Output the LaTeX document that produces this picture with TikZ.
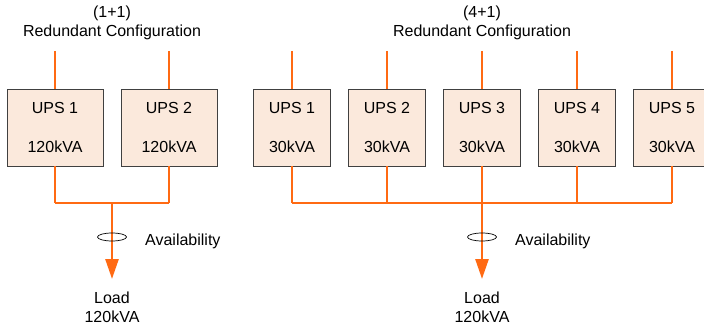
\documentclass[tikz,border=0pt]{standalone}
\usepackage{fontspec}
\setmainfont{Liberation Sans}
\usetikzlibrary{arrows.meta,shapes.geometric}
\definecolor{pline}{HTML}{FF6A13}
\definecolor{pfill}{HTML}{FBE9DC}
\definecolor{pborder}{HTML}{404040}
\begin{document}
\begin{tikzpicture}[x=1pt,y=-1pt,
  upsbox/.style={draw=pborder,line width=0.9pt,fill=pfill,minimum width=#1,minimum height=77pt,inner sep=0pt},
  wire/.style={draw=pline,line width=2pt},
  stem/.style={draw=pline,line width=2.6pt,-{Triangle[width=13pt,length=20pt]}},
  ring/.style={draw=black,line width=0.7pt,ellipse,minimum width=29pt,minimum height=8pt,inner sep=0pt},
  lbl/.style={font=\fontsize{16}{19}\selectfont,align=center,inner sep=0pt}]
\useasboundingbox (0,0) rectangle (704,326);
% Left group (1+1)
\node[lbl] (hl) at (112,22.5) {(1+1)\\Redundant Configuration};
\foreach \i/\x in {1/55,2/169}{
  \coordinate (lt\i) at (\x,51);
  \node[upsbox=96pt] (lu\i) at (\x,127.5) {};
  \node[lbl] at (\x,108) {UPS \i};
  \node[lbl] at (\x,147) {120kVA};
  \coordinate (lb\i) at (\x,203);
  \draw[wire] (lt\i) -- (lu\i.north);
  \draw[wire] (lu\i.south) -- (lb\i);
}
\draw[wire] (lb1) -- (lb2);
\coordinate (lj) at (112,203);
\coordinate (ll) at (112,279);
\draw[stem] (lj) -- (ll);
\node[ring] (le) at (112,237) {};
\node[lbl,anchor=west] (la) at (145,241) {Availability};
\node[lbl] (lload) at (112,307.5) {Load\\120kVA};
% Right group (4+1)
\node[lbl] (hr) at (482,22.5) {(4+1)\\Redundant Configuration};
\foreach \i/\x in {1/292,2/387,3/482,4/577,5/672}{
  \coordinate (rt\i) at (\x,51);
  \node[upsbox=77pt] (ru\i) at (\x,127.5) {};
  \node[lbl] at (\x,108) {UPS \i};
  \node[lbl] at (\x,147) {30kVA};
  \coordinate (rb\i) at (\x,203);
  \draw[wire] (rt\i) -- (ru\i.north);
  \draw[wire] (ru\i.south) -- (rb\i);
}
\draw[wire] (rb1) -- (rb5);
\coordinate (rl) at (482,279);
\draw[stem] (rb3) -- (rl);
\node[ring] (re) at (482,237) {};
\node[lbl,anchor=west] (ra) at (515,241) {Availability};
\node[lbl] (rload) at (482,307.5) {Load\\120kVA};
\end{tikzpicture}
\end{document}
